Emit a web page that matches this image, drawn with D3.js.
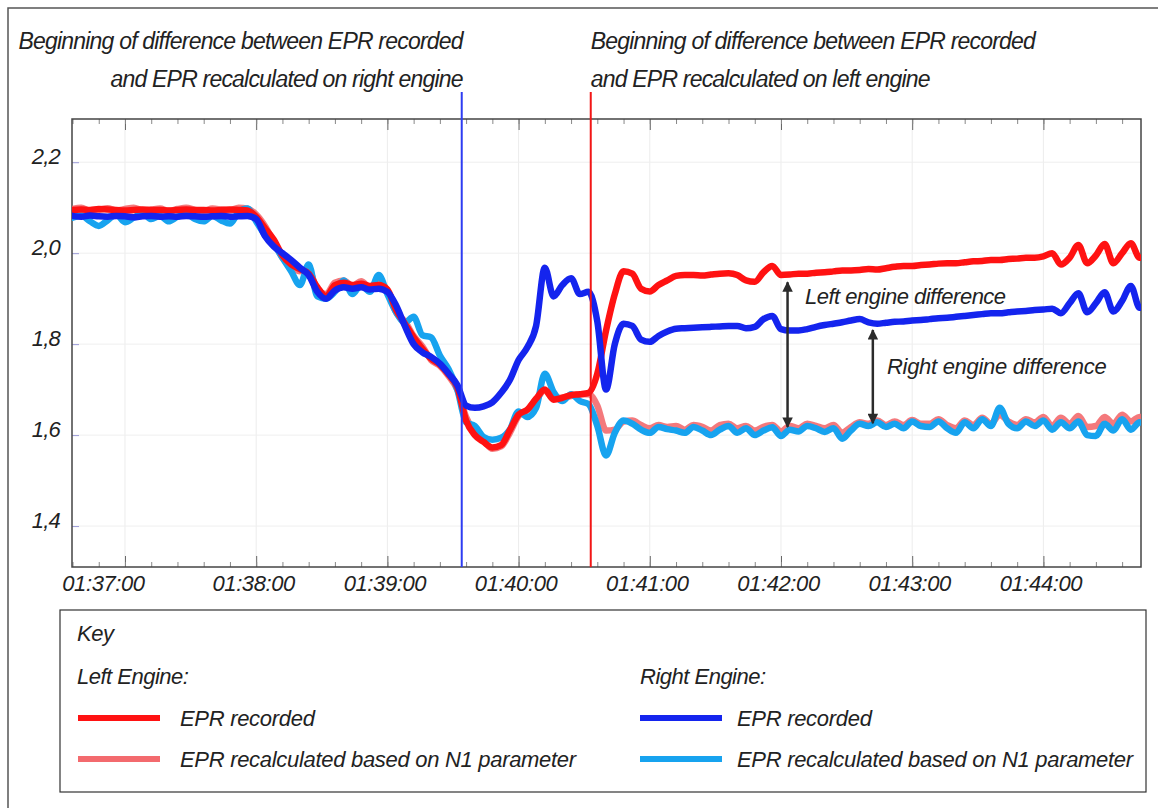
<!DOCTYPE html>
<html>
<head>
<meta charset="utf-8">
<script src="https://cdn.jsdelivr.net/npm/d3@7"></script>
<style>
  body { margin: 0; background: #fff; }
  text { font-family: "Liberation Sans", Arial, sans-serif; font-style: italic; fill: #222; }
</style>
</head>
<body>
<svg id="chart" width="1158" height="808"></svg>
<script>
// samples every 4 s starting here
const sampleStart = "01:36:36";
const sampleStepSec = 4;

const leftRecorded = [
  2.095,2.096,2.095,2.097,2.096,2.095,2.094,2.095,2.096,2.095,2.095,2.094,2.095,2.096,2.095,2.095,2.094,2.095,2.096,2.095,2.094,
  2.08,2.055,2.03,1.995,1.975,1.965,1.955,1.925,1.905,1.93,1.935,1.93,1.933,1.928,1.93,1.92,1.875,1.845,1.815,1.79,1.768,1.755,1.733,1.705,
  1.632,1.60,1.585,1.573,1.578,1.611,1.645,1.656,1.68,1.70,1.678,1.682,1.688,1.69,1.693,1.735,1.83,1.91,1.96,1.955,1.922,1.916,1.93,1.94,1.95,1.952,1.952,1.951,1.953,1.955,1.956,1.952,1.94,1.937,1.958,1.972,
  1.952,1.953,1.955,1.955,1.957,1.958,1.960,1.962,1.962,1.963,1.965,1.964,1.967,1.97,1.972,1.972,1.974,1.975,1.977,1.978,1.978,1.98,1.982,1.983,1.985,1.985,1.987,1.988,1.99,1.99,1.993,
  2.0,1.975,1.99,2.018,1.978,1.995,2.02,1.978,2.0,2.022,1.99,1.99
];
const leftRecalculated = [
  2.097,2.1,2.093,2.095,2.099,2.094,2.097,2.1,2.094,2.096,2.098,2.093,2.097,2.1,2.095,2.093,2.098,2.096,2.094,2.1,2.098,
  2.085,2.06,2.025,1.99,1.972,1.96,1.962,1.92,1.91,1.935,1.94,1.928,1.938,1.925,1.935,1.918,1.87,1.85,1.818,1.795,1.765,1.752,1.73,1.70,
  1.64,1.605,1.588,1.57,1.575,1.605,1.642,1.655,1.678,1.698,1.68,1.683,1.686,1.69,1.69,1.665,1.61,1.612,1.63,1.632,1.622,1.615,1.622,1.618,1.62,1.612,1.622,1.618,1.61,1.622,1.625,1.615,1.62,1.61,1.618,1.622,
  1.608,1.62,1.615,1.625,1.62,1.615,1.622,1.605,1.618,1.628,1.625,1.632,1.622,1.63,1.622,1.633,1.625,1.625,1.635,1.622,1.615,1.632,1.622,1.638,1.625,1.645,1.63,1.622,1.635,1.628,1.64,1.62,1.638,1.625,1.642,1.618,1.62,1.64,1.625,1.645,1.63,1.64,1.635
];
const rightRecorded = [
  2.082,2.08,2.083,2.081,2.08,2.082,2.081,2.079,2.081,2.082,2.08,2.081,2.08,2.082,2.081,2.08,2.081,2.082,2.08,2.081,2.082,
  2.075,2.038,2.015,2.0,1.985,1.968,1.952,1.915,1.9,1.918,1.925,1.922,1.925,1.92,1.922,1.915,1.885,1.84,1.80,1.782,1.772,1.757,1.735,1.71,
  1.665,1.66,1.663,1.672,1.693,1.721,1.765,1.793,1.84,1.968,1.905,1.93,1.945,1.91,1.915,1.85,1.70,1.80,1.845,1.84,1.81,1.805,1.818,1.828,1.834,1.835,1.836,1.837,1.838,1.839,1.84,1.84,1.835,1.838,1.855,1.862,
  1.833,1.83,1.83,1.833,1.838,1.842,1.845,1.848,1.852,1.855,1.848,1.845,1.847,1.849,1.85,1.852,1.853,1.855,1.857,1.858,1.86,1.862,1.864,1.866,1.868,1.868,1.87,1.872,1.873,1.875,1.876,
  1.878,1.868,1.89,1.912,1.87,1.89,1.914,1.872,1.895,1.928,1.88,1.885
];
const rightRecalculated = [
  2.078,2.083,2.07,2.06,2.072,2.085,2.068,2.078,2.088,2.075,2.082,2.07,2.08,2.086,2.075,2.07,2.082,2.072,2.065,2.09,2.098,
  2.07,2.04,2.02,1.99,1.96,1.93,1.975,1.905,1.9,1.915,1.94,1.91,1.93,1.915,1.952,1.91,1.87,1.848,1.86,1.82,1.815,1.775,1.745,1.70,
  1.628,1.62,1.596,1.59,1.594,1.612,1.652,1.64,1.66,1.735,1.695,1.675,1.69,1.675,1.668,1.62,1.555,1.605,1.632,1.625,1.612,1.605,1.618,1.613,1.61,1.605,1.618,1.61,1.6,1.612,1.62,1.605,1.615,1.6,1.61,1.617,
  1.598,1.612,1.608,1.62,1.615,1.607,1.615,1.592,1.61,1.625,1.62,1.628,1.618,1.625,1.615,1.63,1.62,1.618,1.63,1.615,1.605,1.628,1.615,1.635,1.62,1.66,1.625,1.615,1.63,1.62,1.632,1.612,1.628,1.615,1.63,1.6,1.598,1.625,1.61,1.635,1.612,1.628,1.62
];

const timeTicks = ["01:37:00","01:38:00","01:39:00","01:40:00","01:41:00","01:42:00","01:43:00","01:44:00"];
const eprTicks = [1.4, 1.6, 1.8, 2.0, 2.2];
const timeDomain = ["01:36:36", "01:44:45"];
const eprDomain = [1.31, 2.295];

// event markers: right engine diverges first, then left engine
const eventTimes = ["01:39:34", "01:40:33"];
const eventLabels = [
  ["Beginning of difference between EPR recorded", "and EPR recalculated on right engine"],
  ["Beginning of difference between EPR recorded", "and EPR recalculated on left engine"]
];
// difference arrows: time, top value, bottom value
const arrowTimes = ["01:42:03", "01:42:42"];
const arrowTops = [1.936, 1.831];
const arrowBottoms = [1.618, 1.626];
const arrowLabels = ["Left engine difference", "Right engine difference"];

const legendGroups = ["Left Engine:", "Right Engine:"];
const legendItems = ["EPR recorded", "EPR recalculated based on N1 parameter"];

const svg = d3.select("#chart");
const parseTime = d3.timeParse("%H:%M:%S");
const t0 = parseTime(sampleStart);
const timeAt = i => new Date(t0.getTime() + i * sampleStepSec * 1000);

const plot = { left: 72, right: 1141, top: 119, bottom: 567 };

const x = d3.scaleTime()
  .domain(timeDomain.map(parseTime))
  .range([72.5, 1141.8]);
const y = d3.scaleLinear()
  .domain(eprDomain)
  .range([plot.bottom, plot.top]);

// outer frame (only top and left edges show in the scan)
svg.append("path")
  .attr("d", "M8,808 L8,8 L1158,8")
  .attr("fill", "none")
  .attr("stroke", "#555")
  .attr("stroke-width", 1.5);

svg.append("clipPath").attr("id", "plotClip")
  .append("rect")
  .attr("x", plot.left).attr("y", plot.top)
  .attr("width", plot.right - plot.left).attr("height", plot.bottom - plot.top);

// faint grid
const minuteDates = timeTicks.map(parseTime);
svg.append("g").selectAll("line")
  .data(minuteDates)
  .join("line")
  .attr("x1", d => x(d)).attr("x2", d => x(d))
  .attr("y1", plot.top).attr("y2", plot.bottom)
  .attr("stroke", "#ececec");
svg.append("g").selectAll("line")
  .data(eprTicks)
  .join("line")
  .attr("x1", plot.left).attr("x2", plot.right)
  .attr("y1", d => y(d)).attr("y2", d => y(d))
  .attr("stroke", "#efefef");

// bottom axis
const bottomAxis = svg.append("g")
  .attr("transform", `translate(0,${plot.bottom})`)
  .call(d3.axisBottom(x)
    .tickValues(minuteDates)
    .tickSizeInner(-11).tickSizeOuter(0).tickPadding(8)
    .tickFormat(d3.timeFormat("%H:%M:%S")));
bottomAxis.select(".domain").remove();
bottomAxis.selectAll("text")
  .attr("font-size", 22).attr("letter-spacing", -0.4)
  .attr("font-family", null).attr("fill", null)
  .attr("dx", (d, i) => i === 0 ? -22 : -3);
bottomAxis.selectAll("line").attr("stroke", "#666");

const minorBottom = svg.append("g")
  .attr("transform", `translate(0,${plot.bottom})`)
  .call(d3.axisBottom(x).ticks(d3.timeSecond.every(12)).tickSize(-5).tickFormat(""));
minorBottom.select(".domain").remove();
minorBottom.selectAll("line").attr("stroke", "#888");

// top axis ticks
const topAxis = svg.append("g")
  .attr("transform", `translate(0,${plot.top})`)
  .call(d3.axisTop(x).tickValues(minuteDates).tickSize(-11).tickFormat(""));
topAxis.select(".domain").remove();
topAxis.selectAll("line").attr("stroke", "#666");
const minorTop = svg.append("g")
  .attr("transform", `translate(0,${plot.top})`)
  .call(d3.axisTop(x).ticks(d3.timeSecond.every(12)).tickSize(-5).tickFormat(""));
minorTop.select(".domain").remove();
minorTop.selectAll("line").attr("stroke", "#888");

// left axis
const leftAxis = svg.append("g")
  .attr("transform", `translate(${plot.left},0)`)
  .call(d3.axisLeft(y)
    .tickValues(eprTicks)
    .tickSizeInner(-7).tickSizeOuter(0).tickPadding(12)
    .tickFormat(d => d3.format(".1f")(d).replace(".", ",")));
leftAxis.select(".domain").remove();
leftAxis.selectAll("line").attr("stroke", "#9a9ad6");
leftAxis.selectAll("text")
  .attr("font-size", 22).attr("letter-spacing", -0.8)
  .attr("font-family", null).attr("fill", null)
  .attr("dy", "0.05em");

// plot frame
svg.append("rect")
  .attr("x", plot.left).attr("y", plot.top)
  .attr("width", plot.right - plot.left).attr("height", plot.bottom - plot.top)
  .attr("fill", "none")
  .attr("stroke", "#444")
  .attr("stroke-width", 1.5);

// series
const series = [
  { values: leftRecalculated, color: "#f36a6e", opacity: 0.9 },
  { values: rightRecalculated, color: "#17a3ef", opacity: 1 },
  { values: leftRecorded, color: "#ff1212", opacity: 1 },
  { values: rightRecorded, color: "#1424ee", opacity: 1 }
];
const line = d3.line()
  .x((d, i) => x(timeAt(i)))
  .y(d => y(d))
  .curve(d3.curveMonotoneX);

svg.append("g")
  .attr("clip-path", "url(#plotClip)")
  .selectAll("path")
  .data(series)
  .join("path")
  .attr("d", d => line(d.values))
  .attr("fill", "none")
  .attr("stroke", d => d.color)
  .attr("stroke-opacity", d => d.opacity)
  .attr("stroke-width", 6.5)
  .attr("stroke-linejoin", "round")
  .attr("stroke-linecap", "round");

// event lines with headings
const eventColors = ["#2d3cf2", "#f21616"];
eventTimes.forEach((t, i) => {
  const ex = x(parseTime(t));
  svg.append("line")
    .attr("x1", ex).attr("x2", ex)
    .attr("y1", 92).attr("y2", plot.bottom)
    .attr("stroke", eventColors[i])
    .attr("stroke-width", 2);
  const anchor = i === 0 ? "end" : "start";
  const tx = i === 0 ? ex + 1 : ex;
  eventLabels[i].forEach((s, j) => {
    svg.append("text")
      .attr("x", tx).attr("y", 49 + j * 38)
      .attr("text-anchor", anchor)
      .attr("font-size", 23)
      .attr("letter-spacing", -0.8)
      .text(s);
  });
});

// difference arrows
const defs = svg.append("defs");
["arrowEnd", "arrowStart"].forEach((id, i) => {
  defs.append("marker")
    .attr("id", id)
    .attr("viewBox", "0 0 10 10")
    .attr("refX", 9).attr("refY", 5)
    .attr("markerWidth", 5).attr("markerHeight", 4.2)
    .attr("orient", i === 0 ? "auto" : "auto-start-reverse")
    .append("path")
    .attr("d", "M0,0 L10,5 L0,10 Z")
    .attr("fill", "#2b2b2b");
});
arrowTimes.forEach((t, i) => {
  const ax = x(parseTime(t));
  svg.append("line")
    .attr("x1", ax).attr("x2", ax)
    .attr("y1", y(arrowTops[i])).attr("y2", y(arrowBottoms[i]))
    .attr("stroke", "#2b2b2b")
    .attr("stroke-width", 2.5)
    .attr("marker-start", "url(#arrowStart)")
    .attr("marker-end", "url(#arrowEnd)");
});
svg.append("text")
  .attr("x", 805).attr("y", 304)
  .attr("font-size", 22).attr("letter-spacing", -0.5)
  .text(arrowLabels[0]);
svg.append("text")
  .attr("x", 887).attr("y", 374)
  .attr("font-size", 22).attr("letter-spacing", -0.3)
  .text(arrowLabels[1]);

// legend
const legend = svg.append("g");
legend.append("rect")
  .attr("x", 60).attr("y", 610)
  .attr("width", 1086).attr("height", 182)
  .attr("fill", "none")
  .attr("stroke", "#333")
  .attr("stroke-width", 1.2);
legend.append("text")
  .attr("x", 77).attr("y", 641)
  .attr("font-size", 22).attr("letter-spacing", -0.5)
  .text("Key");

const columns = [
  { x: 78, colors: ["#ff1212", "#f36a6e"] },
  { x: 640, colors: ["#1424ee", "#17a3ef"] }
];
columns.forEach((c, i) => {
  legend.append("text")
    .attr("x", i === 0 ? 77 : 640).attr("y", 684)
    .attr("font-size", 22).attr("letter-spacing", -0.5)
    .text(legendGroups[i]);
  legendItems.forEach((s, j) => {
    const ly = 718 + j * 41;
    legend.append("line")
      .attr("x1", c.x).attr("x2", c.x + 82)
      .attr("y1", ly).attr("y2", ly)
      .attr("stroke", c.colors[j])
      .attr("stroke-width", 6);
    legend.append("text")
      .attr("x", c.x + (i === 0 ? 102 : 97)).attr("y", ly + 8)
      .attr("font-size", 22).attr("letter-spacing", -0.3)
      .text(s);
  });
});
</script>
</body>
</html>
